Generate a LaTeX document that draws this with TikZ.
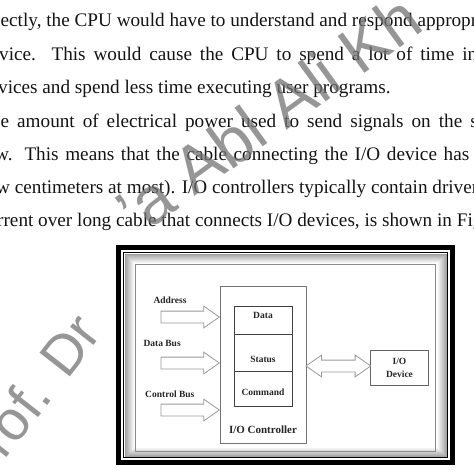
\documentclass[tikz,border=0pt]{standalone}
\usepackage{fontspec}
\setmainfont{Liberation Serif}
\setsansfont{Liberation Sans}
\usetikzlibrary{shapes.arrows}
\usetikzlibrary{positioning}
\usetikzlibrary{calc}

\begin{document}
\begin{tikzpicture}[
    x=1pt, y=-1pt,
    every node/.style={inner sep=0pt},
    body/.style={anchor=base west, font=\fontsize{19.2}{23}\selectfont, text=black!92},
    wmark/.style={anchor=base west, font=\sffamily\fontsize{66}{66}\selectfont, text=black!55, opacity=0.75},
    ctrl/.style={draw=black!55, line width=0.8pt, minimum width=86pt, minimum height=157pt},
    reg/.style={draw=black!75, line width=0.8pt, minimum width=58pt, outer sep=0pt},
    devbox/.style={draw=black!60, line width=0.8pt, minimum width=57.6pt, minimum height=35pt, align=center, font=\bfseries\fontsize{9.5}{13}\selectfont, text=black!85},
    lbl/.style={font=\bfseries\fontsize{9.5}{11}\selectfont, text=black!85},
    bus/.style={single arrow, draw=black!40, fill=white, line width=0.8pt, inner xsep=0pt, inner ysep=5.5pt, single arrow head extend=5pt, single arrow tip angle=70, minimum height=58.3pt},
    link/.style={double arrow, draw=black!40, fill=white, line width=0.8pt, inner xsep=0pt, inner ysep=5.5pt, double arrow head extend=5pt, double arrow tip angle=70, minimum height=64.7pt}
]
\useasboundingbox (0,0) rectangle (474,474);
\clip (0,0) rectangle (474,474);

% page text
\node[body] (line1) at (0.5,26) {ectly, the CPU would have to understand and respond appropr};
\node[body] (line2) at (-1,60) {\makebox[478pt][s]{vice. This would cause the CPU to spend a lot of time in}};
\node[body] (line3) at (-2,93) {vices and spend less time executing user programs.};
\node[body] (line4) at (0.5,127) {\makebox[477pt][s]{e amount of electrical power used to send signals on the s}};
\node[body] (line5) at (-5,160) {\makebox[474pt][s]{w. This means that the cable connecting the I/O device has}};
\node[body] (line6) at (-4,193) {w centimeters at most). I/O controllers typically contain driver};
\node[body] (line7) at (-3,226) {rrent over long cable that connects I/O devices, is shown in Fig};

% watermark
\node[wmark, rotate=52, font=\sffamily\fontsize{56}{56}\selectfont] (markLow) at (-18.6,490.5) {Prof. Dr};
\node[wmark, rotate=36] (markHigh) at (138,238) {'a Abl Ali Kh};

% frame
\fill[white] (116,245) rectangle (455,465);
\draw[line width=5pt] (118.5,247.5) rectangle (452.5,462.5);
\draw[line width=1.2pt] (123.5,252.5) rectangle (447.5,457.5);
\foreach \i [evaluate=\i as \tone using 40-4*\i] in {1,...,9}
    \draw[black!\tone, line width=1pt] (124+\i,253+\i) rectangle (447-\i,457-\i);
\draw[black!45, line width=0.8pt] (135,264) rectangle (435,451);

% controller and registers
\node[ctrl] (ctrl) at (263,364.5) {};
\node[reg, minimum height=27.6pt] (dataReg) at (263,320.5) {};
\node[reg, minimum height=36.7pt, below=0pt of dataReg] (statReg) {};
\node[reg, minimum height=35.7pt, below=0pt of statReg] (cmdReg) {};
\node[lbl] (dataTxt) at (263,315) {Data};
\node[lbl] (statTxt) at (263,359.3) {Status};
\node[lbl] (cmdTxt) at (263,392.7) {Command};
\node[lbl, font=\bfseries\fontsize{11}{13}\selectfont] (ctrlTxt) at (263,430) {I/O Controller};

\node[devbox] (dev) at (399.5,367.5) {I/O\\Device};

% buses
\coordinate (addrIn) at (220,317);
\coordinate (dataIn) at (220,363);
\coordinate (ctrlIn) at (220,410);
\node[bus, anchor=tip] (addrBus) at (addrIn) {};
\node[bus, anchor=tip] (dataBus) at (dataIn) {};
\node[bus, anchor=tip] (ctrlBus) at (ctrlIn) {};
\node[lbl, anchor=west] (addrTxt) at (153.3,300.7) {Address};
\node[lbl, anchor=west] (dataBusTxt) at (143.3,343.3) {Data Bus};
\node[lbl, anchor=west] (ctrlBusTxt) at (145,394) {Control Bus};

\node[link] (devLink) at ($(ctrl.east)!0.5!(dev.west)$) {};
\end{tikzpicture}
\end{document}
